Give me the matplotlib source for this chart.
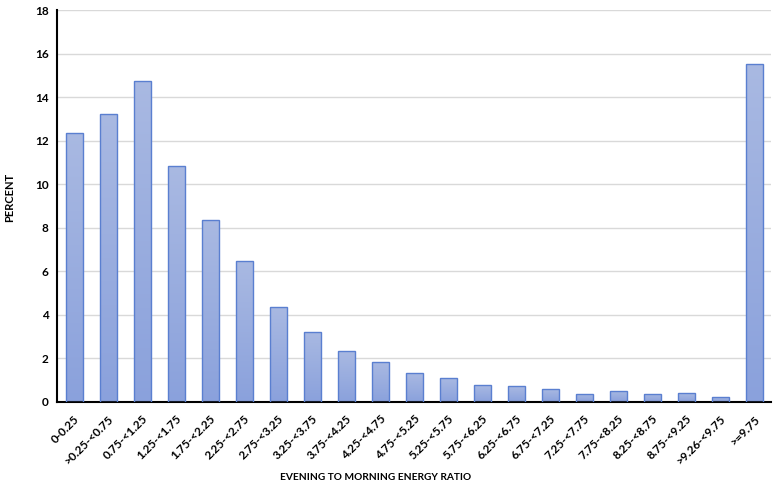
import matplotlib.pyplot as plt
import numpy as np
from matplotlib.colors import LinearSegmentedColormap

categories = ["0-0.25", ">0.25-<0.75", "0.75-<1.25", "1.25-<1.75", "1.75-<2.25",
              "2.25-<2.75", "2.75-<3.25", "3.25-<3.75", "3.75-<4.25", "4.25-<4.75",
              "4.75-<5.25", "5.25-<5.75", "5.75-<6.25", "6.25-<6.75", "6.75-<7.25",
              "7.25-<7.75", "7.75-<8.25", "8.25-<8.75", "8.75-<9.25", ">9.26-<9.75",
              ">=9.75"]
percent = [12.36, 13.24, 14.74, 10.85, 8.37, 6.47, 4.35, 3.23, 2.33, 1.82,
           1.33, 1.09, 0.78, 0.73, 0.58, 0.37, 0.52, 0.37, 0.40, 0.23, 15.5]

plt.rcParams['font.family'] = ['Lato', 'DejaVu Sans']

fig = plt.figure(figsize=(7.79, 4.88), dpi=100)
ax = fig.add_axes([57 / 779, 1 - 402 / 488, (771 - 57) / 779, 392 / 488])

x = np.arange(len(categories))
bars = ax.bar(x, percent, width=0.5, color='none', edgecolor='#5a7fd0', linewidth=1.0, zorder=3)

# gradient fill: lighter at the top, deeper blue at the bottom
cmap = LinearSegmentedColormap.from_list('grad', ['#8aa1dc', '#a9b9e2'])
grad = np.linspace(0, 1, 256).reshape(-1, 1)
for b in bars:
    bx, by = b.get_x(), b.get_y()
    w, h = b.get_width(), b.get_height()
    im = ax.imshow(grad, cmap=cmap, extent=[bx, bx + w, by, by + h],
                   origin='lower', aspect='auto', zorder=2)
    im.set_clip_path(b)

ax.set_xlim(-0.5, len(categories) - 0.5)
ax.set_ylim(0, 18)
ax.set_yticks(range(0, 19, 2))
ax.set_xticks(x)
ax.set_xticklabels(categories, rotation=45, ha='right', rotation_mode='anchor',
                   fontsize=8.5, fontweight='bold')
for lab in ax.get_yticklabels():
    lab.set_fontsize(8.5)
    lab.set_fontweight('bold')

ax.grid(axis='y', color='#d9d9d9', linewidth=1.0, zorder=0)
ax.set_axisbelow(True)
ax.tick_params(length=0, pad=6)
ax.tick_params(axis='x', pad=8)
for side in ['top', 'right']:
    ax.spines[side].set_visible(False)
ax.spines['left'].set_linewidth(1.5)
ax.spines['bottom'].set_linewidth(1.5)

fig.text(376 / 779, 1 - 477 / 488, "EVENING TO MORNING ENERGY RATIO",
         ha='center', va='center', fontsize=7.3, fontweight='bold')
fig.text(10 / 779, 1 - 197 / 488, "PERCENT", rotation=90,
         ha='center', va='center', fontsize=8, fontweight='bold')

fig.savefig("out.png", dpi=100)
